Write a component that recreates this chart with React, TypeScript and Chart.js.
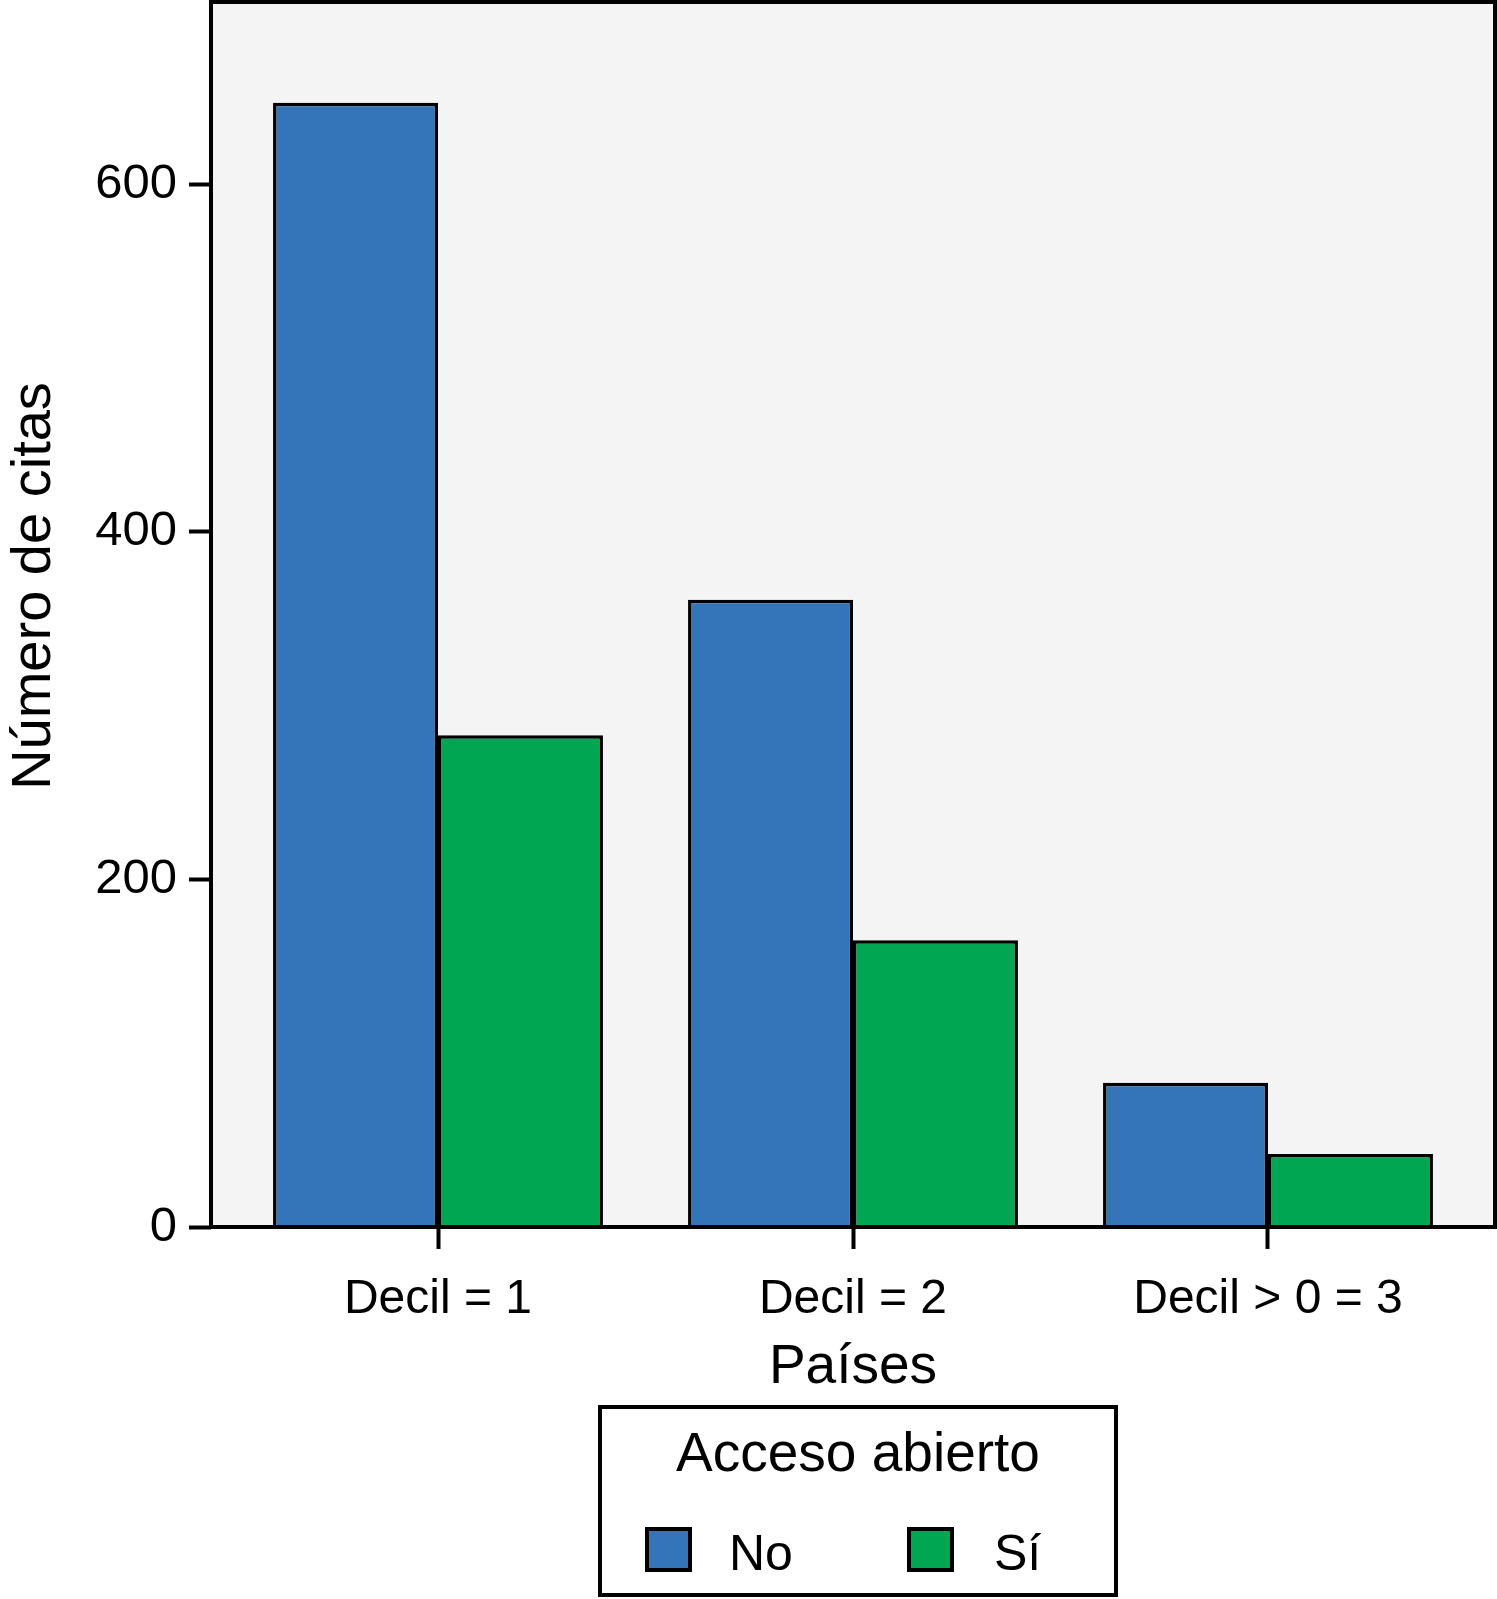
import React, { useEffect, useRef } from "react";
import { Chart, registerables } from "chart.js";

Chart.register(...registerables);

const categories = ["Decil = 1", "Decil = 2", "Decil > 0 = 3"];
const seriesNames = ["No", "Sí"];
const noValues = [647, 361, 83];
const siValues = [283, 165, 42];
const yTickValues = [0, 200, 400, 600];
const yMax = 705;
const seriesColors = ["#3474b9", "#00a651"];
const yTitle = "Número de citas";
const xTitle = "Países";
const legendTitle = "Acceso abierto";

const FONT = "'Liberation Sans', Arial, Helvetica, sans-serif";

export default function App() {
  const ref = useRef<HTMLCanvasElement>(null);

  useEffect(() => {
    document.body.style.margin = "0";
    const canvas = ref.current;
    if (!canvas) return;

    const plotPlugin = {
      id: "plotDecor",
      beforeDatasetsDraw(chart: any) {
        const { ctx, chartArea: a } = chart;
        ctx.save();
        ctx.fillStyle = "#f4f4f4";
        ctx.fillRect(a.left, a.top, a.right - a.left, a.bottom - a.top);
        ctx.restore();
      },
      afterDatasetsDraw(chart: any) {
        const { ctx, chartArea: a } = chart;
        ctx.save();
        ctx.strokeStyle = "#000";
        ctx.lineWidth = 4;
        ctx.strokeRect(a.left, a.top, a.right - a.left, a.bottom - a.top);
        ctx.restore();
      },
      afterDraw(chart: any) {
        const { ctx, chartArea: a } = chart;
        ctx.save();
        ctx.fillStyle = "#000";
        ctx.font = `56px ${FONT}`;
        ctx.textAlign = "center";
        ctx.textBaseline = "alphabetic";
        ctx.save();
        ctx.translate(50, 586);
        ctx.rotate(-Math.PI / 2);
        ctx.fillText(yTitle, 0, 0);
        ctx.restore();
        ctx.font = `55px ${FONT}`;
        ctx.fillText(xTitle, (a.left + a.right) / 2, 1383);
        ctx.lineWidth = 4;
        ctx.strokeStyle = "#000";
        ctx.strokeRect(600, 1407, 516, 188);
        ctx.font = `55px ${FONT}`;
        ctx.fillText(legendTitle, 858, 1471);
        const boxX = [645, 907];
        const textX = [729, 994];
        chart.data.datasets.forEach((ds: any, i: number) => {
          ctx.fillStyle = ds.backgroundColor;
          ctx.fillRect(boxX[i], 1527, 47, 45);
          ctx.strokeStyle = "#000";
          ctx.lineWidth = 4;
          ctx.strokeRect(boxX[i] + 2, 1529, 43, 41);
          ctx.fillStyle = "#000";
          ctx.font = `50px ${FONT}`;
          ctx.textAlign = "left";
          ctx.fillText(ds.label, textX[i], 1570);
        });
        ctx.restore();
      },
    };

    const chart = new Chart(canvas, {
      type: "bar",
      data: {
        datasets: [
          {
            label: seriesNames[0],
            data: noValues.map((v, i) => ({ x: i, y: v })),
            backgroundColor: seriesColors[0],
            borderColor: "#000",
            borderWidth: 3.5,
          },
          {
            label: seriesNames[1],
            data: siValues.map((v, i) => ({ x: i, y: v })),
            backgroundColor: seriesColors[1],
            borderColor: "#000",
            borderWidth: 3.5,
          },
        ],
      },
      options: {
        responsive: false,
        animation: false,
        devicePixelRatio: 1,
        layout: { padding: { top: 2, right: 2, left: 0, bottom: 0 } },
        datasets: {
          bar: { categoryPercentage: 0.795, barPercentage: 1 },
        },
        plugins: {
          legend: { display: false },
          title: { display: false },
          tooltip: { enabled: false },
        },
        scales: {
          x: {
            type: "linear",
            min: -0.547,
            max: categories.length - 1 + 0.547,
            offset: false,
            afterBuildTicks(scale: any) {
              scale.ticks = categories.map((_, i) => ({ value: i }));
            },
            afterFit(scale: any) {
              scale.height = 372;
              scale.paddingLeft = 0;
              scale.paddingRight = 0;
            },
            border: { display: false },
            grid: {
              display: true,
              drawOnChartArea: false,
              drawTicks: true,
              tickLength: 22,
              tickWidth: 4,
              tickColor: "#000",
              offset: false,
            },
            ticks: {
              autoSkip: false,
              maxRotation: 0,
              padding: 22,
              color: "#000",
              font: { family: FONT, size: 48 },
              callback: (value: any) => categories[Math.round(Number(value))] ?? "",
            },
          },
          y: {
            type: "linear",
            min: 0,
            max: yMax,
            afterBuildTicks(scale: any) {
              scale.ticks = yTickValues.map((v) => ({ value: v }));
            },
            afterFit(scale: any) {
              scale.width = 211;
              scale.paddingTop = 0;
              scale.paddingBottom = 0;
            },
            border: { display: false },
            grid: {
              display: true,
              drawOnChartArea: false,
              drawTicks: true,
              tickLength: 22,
              tickWidth: 4,
              tickColor: "#000",
            },
            ticks: {
              padding: 12,
              color: "#000",
              font: { family: FONT, size: 49 },
              callback: (value: any) => String(value),
            },
          },
        },
      },
      plugins: [plotPlugin],
    });

    return () => chart.destroy();
  }, []);

  return (
    <div style={{ width: 1497, height: 1599, background: "#fff" }}>
      <canvas ref={ref} width={1497} height={1599} style={{ display: "block" }} />
    </div>
  );
}
